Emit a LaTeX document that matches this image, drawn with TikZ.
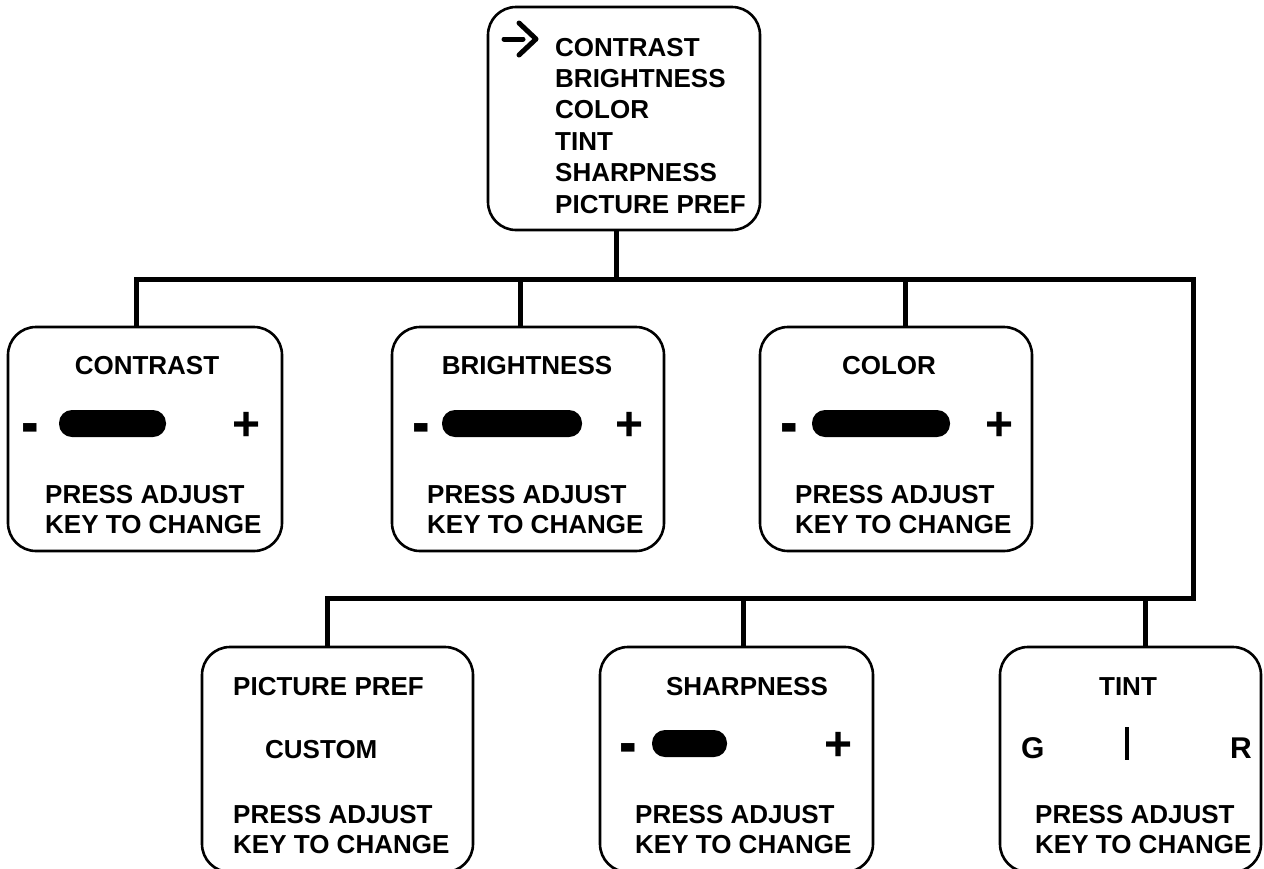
\documentclass[tikz,border=0pt]{standalone}
\usepackage{fontspec}
\usepackage{graphicx}
\setmainfont{Liberation Sans}
\begin{document}
\begin{tikzpicture}[x=1pt,y=-1pt,
  box/.style={draw, line width=2.6pt, rounded corners=28pt, inner sep=0pt, outer sep=0pt, anchor=north west},
  txt/.style={font=\bfseries\fontsize{26}{31}\selectfont, inner sep=0pt},
  big/.style={font=\bfseries\fontsize{30}{30}\selectfont, inner sep=0pt},
  sign/.style={font=\bfseries\fontsize{48}{48}\selectfont, inner sep=0pt, anchor=base},
  pill/.style={fill=black, draw=none, rounded corners=13pt, inner sep=0pt, outer sep=0pt},
  conn/.style={line width=5pt},
  mark stroke/.style={line width=5pt, line cap=round, line join=round}]
\useasboundingbox (0,0) rectangle (1264,868);
\clip (0,0) rectangle (1264,868);

% ---------- boxes ----------
\node[box, minimum width=272pt, minimum height=223pt] (top) at (488,7) {};
\node[box, minimum width=274pt, minimum height=224pt] (b1) at (8,327) {};
\node[box, minimum width=272pt, minimum height=224pt] (b2) at (392,327) {};
\node[box, minimum width=272pt, minimum height=224pt] (b3) at (760,327) {};
\node[box, minimum width=271pt, minimum height=225pt] (b4) at (202,647) {};
\node[box, minimum width=273pt, minimum height=225pt] (b5) at (600,647) {};
\node[box, minimum width=261pt, minimum height=225pt] (b6) at (1000,647) {};

% ---------- top menu ----------
\draw[mark stroke] (504,39) -- (523,39);
\draw[mark stroke] (519,23) -- (536,39) -- (519,55);
\foreach \t [count=\i from 0] in {CONTRAST,BRIGHTNESS,COLOR,TINT,SHARPNESS,PICTURE PREF}
  \node[txt, anchor=base west] (m\i) at (555,{56+31.4*\i}) {\t};

% ---------- connectors ----------
\coordinate (d0) at (616,230);
\coordinate (j0) at (616,279);
\coordinate (d1) at (136,327);
\coordinate (d2) at (520,327);
\coordinate (d3) at (905,327);
\coordinate (jr) at (1193,279);
\coordinate (k0) at (1193,598);
\coordinate (d4) at (327,647);
\coordinate (d5) at (743,647);
\coordinate (d6) at (1145,647);
\draw[conn] (d0) -- (j0);
\draw[conn] (d1) -- (d1 |- j0) -- (jr) -- (k0) -- (d4 |- k0) -- (d4);
\draw[conn] (d2 |- j0) -- (d2);
\draw[conn] (d3 |- j0) -- (d3);
\draw[conn] (d5 |- k0) -- (d5);
\draw[conn] (d6 |- k0) -- (d6);

% ---------- row 1 ----------
\node[txt, anchor=base] (t1) at (147,374) {CONTRAST};
\node[txt, anchor=base] (t2) at (527,374) {BRIGHTNESS};
\node[txt, anchor=base] (t3) at (889,374) {COLOR};

\node[pill, minimum width=107pt, minimum height=27pt] (p1) at (112.5,423.5) {};
\node[pill, minimum width=140pt, minimum height=27pt] (p2) at (512,423.5) {};
\node[pill, minimum width=138pt, minimum height=27pt] (p3) at (881,423.5) {};

\node[sign] (mi1) at (30,446) {\scalebox{1.1}[1.5]{-}};
\node[sign] (pl1) at (247,440) {+};
\node[sign] (mi2) at (421,446) {\scalebox{1.1}[1.5]{-}};
\node[sign] (pl2) at (630,440) {+};
\node[sign] (mi3) at (789,446) {\scalebox{1.1}[1.5]{-}};
\node[sign] (pl3) at (1000,440) {+};

\foreach \x/\n in {45/1,427/2,795/3}{
  \node[txt, anchor=base west] (pa\n) at (\x,503) {PRESS ADJUST};
  \node[txt, anchor=base west] (kc\n) at (\x,533) {KEY TO CHANGE};
}

% ---------- row 2 ----------
\node[txt, anchor=base west] (t4) at (233,695) {PICTURE PREF};
\node[txt, anchor=base west] (cu) at (265,758) {CUSTOM};
\node[txt, anchor=base] (t5) at (747,695) {SHARPNESS};
\node[txt, anchor=base] (t6) at (1128,695) {TINT};

\node[pill, minimum width=75pt, minimum height=27pt] (p5) at (689.5,743.5) {};
\node[sign] (mi5) at (628,766) {\scalebox{1.1}[1.5]{-}};
\node[sign] (pl5) at (839,760) {+};

\node[big, anchor=base west] (g) at (1021,758) {G};
\node[big, anchor=base west] (r) at (1230,758) {R};
\draw[line width=4.5pt] (1127,727) -- (1127,760);

\foreach \x/\n in {233/4,635/5,1035/6}{
  \node[txt, anchor=base west] (pa\n) at (\x,823) {PRESS ADJUST};
  \node[txt, anchor=base west] (kc\n) at (\x,853) {KEY TO CHANGE};
}
\end{tikzpicture}
\end{document}
